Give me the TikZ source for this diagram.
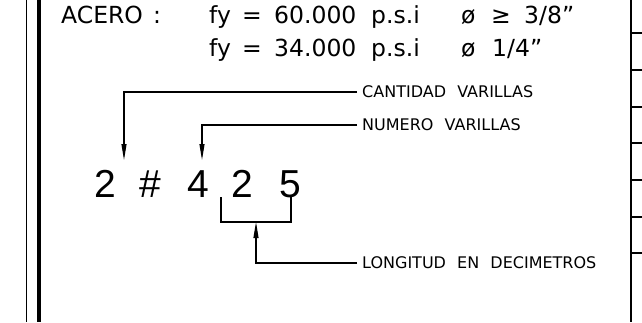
\documentclass[tikz,border=0pt]{standalone}
\usepackage{fontspec}
\setmainfont{DejaVu Sans}
\newfontfamily\labfont[WordSpace=2.2]{DejaVu Sans}
\newfontfamily\digfont{Liberation Sans}
\usetikzlibrary{arrows.meta}
\begin{document}
\begin{tikzpicture}[x=1pt,y=-1pt,
  lead/.style={line width=1.1pt},
  arr/.style={lead,-{Triangle[length=16pt,width=5pt]}},
  frame/.style={line width=1.5pt},
  lab/.style={anchor=west,inner xsep=5pt,inner ysep=0pt,font=\labfont\fontsize{16}{16}\selectfont},
  toptxt/.style={anchor=base west,inner sep=0pt,font=\fontsize{23.5}{24}\selectfont},
  dig/.style={anchor=base west,inner sep=0pt,font=\digfont\fontsize{39}{39}\selectfont}]
\useasboundingbox (0,0) rectangle (642,322);
% frame lines
\draw[line width=1pt] (26.7,0) -- (26.7,322);
\draw[line width=4pt] (38.5,0) -- (38.5,322);
\draw[frame] (631,0) -- (631,322);
\foreach \y in {33,70,107,143,180,217,253} \draw[frame] (631,\y) -- (642,\y);
% header text
\node[toptxt] (acero) at (61,23) {ACERO};
\node[toptxt] (colon) at (153,23) {:};
\node[toptxt] (line1) at (209,23) {\makebox[33pt][l]{fy}\makebox[32pt][l]{=}\makebox[97pt][l]{60.000}\makebox[90pt][l]{p.s.i}\makebox[30pt][l]{ø}\makebox[33pt][l]{≥}3/8”};
\node[toptxt] (line2) at (209,56) {\makebox[33pt][l]{fy}\makebox[32pt][l]{=}\makebox[97pt][l]{34.000}\makebox[90pt][l]{p.s.i}\makebox[31pt][l]{ø}1/4”};
% labels
\node[lab] (cant) at (357,92) {CANTIDAD VARILLAS};
\node[lab] (num) at (357,125) {NUMERO VARILLAS};
\node[lab] (lon) at (357,263) {LONGITUD EN DECIMETROS};
% designation
\node[dig] (d1) at (94,197) {2};
\node[dig] (d2) at (139,197) {\#};
\node[dig] (d3) at (187,197) {4};
\node[dig] (d4) at (231,197) {2};
\node[dig] (d5) at (279,197) {5};
% connectors
\coordinate (t1) at (124,160);
\coordinate (t2) at (202,160);
\coordinate (bl) at (221,197);
\coordinate (bm) at (256,222);
\coordinate (br) at (291,197);
\draw[arr] (cant.west) -| (t1);
\draw[arr] (num.west) -| (t2);
\draw[lead] (bl) |- (bm) -| (br);
\draw[arr] (lon.west) -| (bm);
\end{tikzpicture}
\end{document}
